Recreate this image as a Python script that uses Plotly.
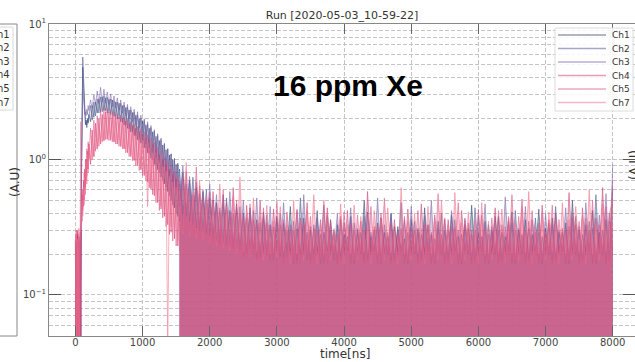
import plotly.graph_objects as go

# ---------------- data ----------------
channels = ["Ch1", "Ch2", "Ch3", "Ch4", "Ch5", "Ch7"]

t_early = list(range(0, 200, 10)) + list(range(200, 1551, 25))
t_tail = list(range(1550, 8001, 50))

ch1_early = [0.02, 0.22, 0.03, 0.27, 0.02, 0.19, 0.03, 0.25, 0.04, 0.9,
             4.3, 4.8, 3.6, 2.5, 2.0, 1.8, 1.95, 1.72, 2.0, 1.85, 2.15,
             1.9, 2.5, 2.05, 2.65, 2.2, 2.8, 2.25, 2.9, 2.3, 2.85, 2.2, 2.78, 2.15, 2.75, 2.08, 2.65, 2.0, 2.6, 1.9,
             2.5, 1.8, 2.42, 1.7, 2.32, 1.6, 2.22, 1.5, 2.12, 1.4, 2.0, 1.32, 1.92, 1.22, 1.8, 1.12, 1.7, 1.02, 1.6, 0.92,
             1.48, 0.84, 1.38, 0.74, 1.28, 0.66, 1.18, 0.58, 1.08, 0.5, 1.0, 0.44, 0.92, 0.38, 0.85]
ch2_early = [0.25, 0.02, 0.21, 0.03, 0.28, 0.02, 0.23, 0.03, 0.26, 1.2,
             5.0, 5.7, 4.2, 2.8, 2.1, 1.85, 1.9, 1.8, 1.95, 1.9, 2.05,
             2.5, 1.95, 2.65, 2.1, 2.8, 2.2, 2.9, 2.25, 2.95, 2.28, 2.88, 2.2, 2.8, 2.15, 2.72, 2.08, 2.66, 2.0, 2.6,
             1.88, 2.52, 1.78, 2.44, 1.68, 2.32, 1.58, 2.24, 1.48, 2.14, 1.38, 2.02, 1.3, 1.94, 1.2, 1.82, 1.1, 1.72, 1.0, 1.62,
             0.9, 1.5, 0.8, 1.4, 0.7, 1.3, 0.62, 1.2, 0.54, 1.1, 0.46, 1.02, 0.4, 0.94, 0.35]
ch3_early = [0.02, 0.24, 0.03, 0.2, 0.02, 0.26, 0.03, 0.22, 0.05, 0.7,
             2.6, 3.3, 2.9, 2.4, 2.15, 2.25, 2.1, 2.35, 2.15, 2.5, 2.3,
             2.75, 2.4, 3.0, 2.55, 3.2, 2.6, 3.4, 2.65, 3.3, 2.6, 3.15, 2.55, 3.05, 2.45, 2.95, 2.4, 2.85, 2.3, 2.75,
             2.2, 2.65, 2.1, 2.55, 2.0, 2.45, 1.9, 2.35, 1.8, 2.25, 1.7, 2.12, 1.58, 2.0, 1.48, 1.9, 1.36, 1.78, 1.25, 1.66,
             1.14, 1.55, 1.02, 1.44, 0.9, 1.32, 0.8, 1.2, 0.7, 1.1, 0.62, 1.0, 0.54, 0.92, 0.48]
ch4_early = [0.03, 0.28, 0.02, 0.3, 0.03, 0.25, 0.02, 0.29, 0.03, 0.35,
             0.55, 0.42, 0.7, 0.5, 0.85, 0.62, 1.0, 0.75, 1.15, 0.85, 1.3,
             0.92, 1.65, 1.05, 1.85, 1.2, 2.0, 1.3, 2.15, 1.38, 2.25, 1.42, 2.22, 1.4, 2.16, 1.35, 2.1, 1.3, 2.05, 1.25,
             2.0, 1.2, 1.92, 1.12, 1.85, 1.05, 1.78, 0.98, 1.7, 0.9, 1.62, 0.84, 1.54, 0.76, 1.46, 0.68, 1.38, 0.6, 1.28, 0.54,
             1.18, 0.48, 1.08, 0.43, 1.0, 0.38, 0.92, 0.33, 0.85, 0.29, 0.78, 0.26, 0.72, 0.23, 0.66]
ch5_early = [0.26, 0.02, 0.3, 0.03, 0.22, 0.02, 0.27, 0.03, 0.32, 0.4,
             0.35, 0.6, 0.45, 0.8, 0.6, 1.0, 0.7, 1.2, 0.85, 1.35, 1.0,
             1.7, 1.0, 1.95, 1.15, 2.1, 1.25, 2.3, 1.35, 2.42, 1.4, 2.38, 1.38, 2.32, 1.35, 2.25, 1.3, 2.18, 1.25, 2.12,
             1.2, 2.05, 1.12, 1.98, 1.05, 1.9, 0.98, 1.82, 0.9, 1.75, 0.83, 1.68, 0.76, 1.6, 0.7, 1.52, 0.62, 1.44, 0.55, 1.34,
             0.48, 1.24, 0.42, 1.14, 0.37, 1.05, 0.32, 0.98, 0.28, 0.9, 0.25, 0.82, 0.23, 0.76, 0.21]
ch7_early = [0.02, 0.3, 0.03, 0.26, 0.02, 0.31, 0.03, 0.28, 1.9, 0.3,
             0.5, 0.38, 0.62, 0.46, 0.78, 0.55, 0.95, 0.66, 1.1, 0.8, 1.25,
             0.95, 1.5, 1.05, 1.7, 1.2, 1.85, 1.3, 2.0, 1.38, 2.1, 1.4, 2.05, 1.38, 1.98, 1.35, 1.92, 1.3, 1.88, 1.25,
             1.82, 1.2, 1.75, 1.15, 1.68, 1.08, 1.6, 1.0, 1.52, 0.92, 1.45, 0.85, 1.38, 0.78, 1.3, 0.45, 1.22, 0.62, 1.12, 0.56,
             1.02, 0.5, 0.95, 0.45, 0.88, 0.4, 0.82, 0.04, 0.75, 0.32, 0.68, 0.28, 0.62, 0.25, 0.58]

ch1_tail = [0.45, 0.8, 0.38, 0.7, 0.33, 0.62, 0.3, 0.58, 0.28, 0.52,
            0.26, 0.48, 0.24, 0.55, 0.23, 0.42, 0.22, 0.47, 0.21, 0.4,
            0.2, 0.44, 0.21, 0.36, 0.19, 0.41, 0.2, 0.33, 0.18, 0.38,
            0.19, 0.34, 0.21, 0.45, 0.17, 0.31, 0.2, 0.37, 0.18, 0.3,
            0.2, 0.42, 0.17, 0.29, 0.21, 0.36, 0.18, 0.33, 0.19, 0.28,
            0.21, 0.38, 0.17, 0.3, 0.2, 0.5, 0.18, 0.27, 0.21, 0.34,
            0.17, 0.29, 0.2, 0.4, 0.18, 0.32, 0.21, 0.26, 0.17, 0.36,
            0.2, 0.31, 0.18, 0.44, 0.21, 0.28, 0.17, 0.35, 0.2, 0.3,
            0.18, 0.39, 0.21, 0.27, 0.17, 0.33, 0.2, 0.46, 0.18, 0.29,
            0.21, 0.35, 0.17, 0.3, 0.2, 0.38, 0.18, 0.27, 0.21, 0.41,
            0.17, 0.3, 0.2, 0.36, 0.18, 0.28, 0.21, 0.43, 0.17, 0.31,
            0.2, 0.37, 0.18, 0.29, 0.21, 0.34, 0.17, 0.5, 0.2, 0.3,
            0.18, 0.33, 0.21, 0.42, 0.17, 0.29, 0.2, 0.36, 0.18, 0.6]
ch2_tail = [0.85, 0.4, 0.66, 0.35, 0.74, 0.31, 0.56, 0.29, 0.6, 0.27,
            0.5, 0.25, 0.44, 0.24, 0.52, 0.23, 0.4, 0.22, 0.45, 0.21,
            0.37, 0.2, 0.42, 0.19, 0.34, 0.21, 0.39, 0.18, 0.32, 0.2,
            0.4, 0.19, 0.3, 0.21, 0.35, 0.17, 0.52, 0.2, 0.29, 0.18,
            0.33, 0.21, 0.28, 0.17, 0.39, 0.2, 0.3, 0.18, 0.36, 0.21,
            0.27, 0.17, 0.34, 0.2, 0.29, 0.18, 0.41, 0.21, 0.3, 0.17,
            0.37, 0.2, 0.27, 0.18, 0.32, 0.21, 0.48, 0.17, 0.29, 0.2,
            0.35, 0.18, 0.28, 0.21, 0.33, 0.17, 0.26, 0.2, 0.4, 0.18,
            0.3, 0.21, 0.36, 0.17, 0.28, 0.2, 0.31, 0.18, 0.44, 0.21,
            0.27, 0.17, 0.33, 0.2, 0.38, 0.18, 0.29, 0.21, 0.35, 0.17,
            0.42, 0.2, 0.28, 0.18, 0.31, 0.21, 0.37, 0.17, 0.27, 0.2,
            0.34, 0.18, 0.45, 0.21, 0.29, 0.17, 0.32, 0.2, 0.38, 0.18,
            0.28, 0.21, 0.35, 0.17, 0.55, 0.2, 0.3, 0.18, 0.4, 0.21]
ch3_tail = [0.5, 0.9, 0.42, 0.75, 0.37, 0.68, 0.33, 0.6, 0.3, 0.66,
            0.28, 0.55, 0.26, 0.47, 0.25, 0.58, 0.23, 0.44, 0.22, 0.5,
            0.21, 0.41, 0.2, 0.52, 0.19, 0.37, 0.21, 0.45, 0.18, 0.36,
            0.2, 0.48, 0.19, 0.33, 0.21, 0.42, 0.17, 0.55, 0.2, 0.32,
            0.18, 0.37, 0.21, 0.46, 0.17, 0.3, 0.2, 0.4, 0.18, 0.34,
            0.21, 0.44, 0.17, 0.31, 0.2, 0.38, 0.18, 0.29, 0.21, 0.52,
            0.17, 0.33, 0.2, 0.4, 0.18, 0.3, 0.21, 0.36, 0.17, 0.45,
            0.2, 0.29, 0.18, 0.38, 0.21, 0.5, 0.17, 0.31, 0.2, 0.36,
            0.18, 0.42, 0.21, 0.3, 0.17, 0.37, 0.2, 0.28, 0.18, 0.39,
            0.21, 0.47, 0.17, 0.32, 0.2, 0.3, 0.18, 0.53, 0.21, 0.34,
            0.17, 0.31, 0.2, 0.45, 0.18, 0.36, 0.21, 0.29, 0.17, 0.4,
            0.2, 0.33, 0.18, 0.3, 0.21, 0.44, 0.17, 0.37, 0.2, 0.32,
            0.18, 0.48, 0.21, 0.31, 0.17, 0.39, 0.2, 0.56, 0.18, 0.92]
ch4_tail = [0.7, 0.3, 0.82, 0.28, 0.55, 0.27, 0.64, 0.25, 0.5, 0.24,
            0.58, 0.23, 0.42, 0.22, 0.48, 0.21, 0.62, 0.2, 0.4, 0.19,
            0.46, 0.21, 0.36, 0.18, 0.5, 0.2, 0.34, 0.19, 0.43, 0.21,
            0.33, 0.17, 0.41, 0.2, 0.3, 0.18, 0.37, 0.21, 0.48, 0.17,
            0.31, 0.2, 0.36, 0.18, 0.44, 0.21, 0.29, 0.17, 0.38, 0.2,
            0.42, 0.18, 0.3, 0.21, 0.35, 0.17, 0.58, 0.2, 0.32, 0.18,
            0.4, 0.21, 0.29, 0.17, 0.36, 0.2, 0.31, 0.18, 0.43, 0.21,
            0.3, 0.17, 0.47, 0.2, 0.33, 0.18, 0.39, 0.21, 0.28, 0.17,
            0.36, 0.2, 0.31, 0.18, 0.42, 0.21, 0.34, 0.17, 0.3, 0.2,
            0.39, 0.18, 0.28, 0.21, 0.44, 0.17, 0.33, 0.2, 0.37, 0.18,
            0.3, 0.21, 0.51, 0.17, 0.35, 0.2, 0.29, 0.18, 0.46, 0.21,
            0.36, 0.17, 0.4, 0.2, 0.31, 0.18, 0.57, 0.21, 0.33, 0.17,
            0.44, 0.2, 0.3, 0.18, 0.37, 0.21, 0.62, 0.17, 0.35, 0.3]
ch5_tail = [0.32, 0.74, 0.29, 0.6, 0.28, 0.88, 0.26, 0.52, 0.25, 0.57,
            0.24, 0.45, 0.23, 0.6, 0.22, 0.41, 0.21, 0.5, 0.2, 0.38,
            0.19, 0.47, 0.21, 0.35, 0.18, 0.44, 0.2, 0.33, 0.19, 0.49,
            0.21, 0.36, 0.17, 0.31, 0.2, 0.43, 0.18, 0.34, 0.21, 0.38,
            0.17, 0.3, 0.2, 0.5, 0.18, 0.35, 0.21, 0.28, 0.17, 0.41,
            0.2, 0.34, 0.18, 0.39, 0.21, 0.3, 0.17, 0.45, 0.2, 0.33,
            0.18, 0.52, 0.21, 0.34, 0.17, 0.29, 0.2, 0.38, 0.18, 0.31,
            0.21, 0.42, 0.17, 0.33, 0.2, 0.29, 0.18, 0.56, 0.21, 0.37,
            0.17, 0.32, 0.2, 0.48, 0.18, 0.36, 0.21, 0.3, 0.17, 0.43,
            0.2, 0.31, 0.18, 0.37, 0.21, 0.42, 0.17, 0.32, 0.2, 0.55,
            0.18, 0.38, 0.21, 0.3, 0.17, 0.42, 0.2, 0.34, 0.18, 0.29,
            0.21, 0.46, 0.17, 0.36, 0.2, 0.3, 0.18, 0.4, 0.21, 0.35,
            0.17, 0.37, 0.2, 0.5, 0.18, 0.33, 0.21, 0.45, 0.17, 0.7]
ch7_tail = [0.62, 0.28, 0.95, 0.27, 0.58, 0.26, 0.7, 0.25, 0.55, 0.24,
            0.47, 0.23, 0.66, 0.22, 0.45, 0.21, 0.53, 0.2, 0.74, 0.21,
            0.4, 0.19, 0.52, 0.21, 0.38, 0.18, 0.46, 0.2, 0.35, 0.19,
            0.45, 0.21, 0.33, 0.17, 0.5, 0.2, 0.36, 0.18, 0.42, 0.21,
            0.55, 0.17, 0.34, 0.2, 0.4, 0.18, 0.31, 0.21, 0.47, 0.17,
            0.33, 0.2, 0.46, 0.18, 0.38, 0.21, 0.31, 0.17, 0.42, 0.2,
            0.36, 0.18, 0.44, 0.21, 0.3, 0.17, 0.62, 0.2, 0.35, 0.18,
            0.4, 0.21, 0.31, 0.17, 0.45, 0.2, 0.37, 0.18, 0.5, 0.21,
            0.33, 0.17, 0.57, 0.2, 0.34, 0.18, 0.41, 0.21, 0.36, 0.17,
            0.48, 0.2, 0.35, 0.18, 0.31, 0.21, 0.43, 0.17, 0.38, 0.2,
            0.35, 0.18, 0.44, 0.21, 0.58, 0.17, 0.32, 0.2, 0.39, 0.18,
            0.41, 0.21, 0.33, 0.17, 0.48, 0.2, 0.36, 0.18, 0.45, 0.21,
            0.38, 0.17, 0.6, 0.2, 0.34, 0.18, 0.47, 0.21, 0.4, 0.5]

early_values = [ch1_early, ch2_early, ch3_early, ch4_early, ch5_early, ch7_early]
tail_values = [ch1_tail, ch2_tail, ch3_tail, ch4_tail, ch5_tail, ch7_tail]

x_tick_vals = [0, 1000, 2000, 3000, 4000, 5000, 6000, 7000, 8000]
y_tick_vals = [0.1, 1, 10]
y_tick_text = ["10<sup>\u22121</sup>", "10<sup>0</sup>", "10<sup>1</sup>"]
y_minor_vals = [0.06, 0.07, 0.08, 0.09, 0.2, 0.3, 0.4, 0.5, 0.6, 0.7, 0.8, 0.9,
                2, 3, 4, 5, 6, 7, 8, 9]

# ---------------- styles ----------------
ch_rgb = ["40,62,105", "72,82,138", "118,96,165", "205,55,110", "220,80,130", "242,110,140"]
X_RANGE = [-393, 8332]
Y_RANGE = [-1.303, 1.0]
FONT = "DejaVu Sans"
GRID = "#c4c4c4"
W, H = 635, 362
ML, MR, MT, MB = 49, 0, 24, 26
PW, PH = W - ML - MR, H - MT - MB


def px_x(p):
    return (p - ML) / PW


def px_y(p):
    return (H - MB - p) / PH


fig = go.Figure()
for i, name in enumerate(channels):
    fig.add_trace(go.Scatter(
        x=t_early, y=early_values[i], mode="lines", name=name,
        legendgroup=name, showlegend=False,
        line=dict(color=f"rgba({ch_rgb[i]},0.55)", width=1),
        hoverinfo="skip"))
    fig.add_trace(go.Scatter(
        x=t_tail, y=tail_values[i], mode="lines", name=name,
        legendgroup=name, showlegend=False, fill="tozeroy",
        fillcolor=f"rgba({ch_rgb[i]},0.34)",
        line=dict(color=f"rgba({ch_rgb[i]},0.5)", width=1),
        hoverinfo="skip"))

fig.update_layout(
    width=W, height=H,
    margin=dict(l=ML, r=MR, t=MT, b=MB, pad=0),
    paper_bgcolor="white", plot_bgcolor="white",
    font=dict(family=FONT, size=10, color="#444"),
    title=dict(text="Run [2020-05-03_10-59-22]", x=0.5, xref="paper",
               y=1 - 15 / H, yref="container", yanchor="middle",
               font=dict(family=FONT, size=11, color="#333")),
    showlegend=False,
)

fig.update_xaxes(
    range=X_RANGE, tickmode="array", tickvals=x_tick_vals,
    ticktext=[str(v) for v in x_tick_vals],
    ticks="inside", ticklen=10, tickcolor="#666", tickwidth=1,
    showline=True, linecolor="#888", linewidth=1, mirror="ticks",
    showgrid=True, gridcolor=GRID, griddash="4px,2px", gridwidth=1,
    zeroline=False, tickfont=dict(family=FONT, size=10, color="#444"),
    ticklabelstandoff=-3,
)
fig.update_yaxes(
    type="log", range=Y_RANGE, tickmode="array", tickvals=y_tick_vals, ticktext=y_tick_text,
    ticks="inside", ticklen=12, tickcolor="#555", tickwidth=1,
    showline=True, linecolor="#888", linewidth=1, mirror="ticks",
    showgrid=True, gridcolor=GRID, griddash="4px,2px", gridwidth=1,
    minor=dict(tickmode="array", tickvals=y_minor_vals, showgrid=True,
               gridcolor=GRID, griddash="4px,2px", gridwidth=1, ticks=""),
    zeroline=False, tickfont=dict(family=FONT, size=10, color="#444"),
)

# x label
fig.add_annotation(text="time[ns]", xref="paper", yref="paper", x=px_x(345), y=px_y(354),
                   xanchor="center", yanchor="middle", showarrow=False,
                   font=dict(family=FONT, size=12, color="#333"))

# big label
fig.add_annotation(text="<b>16 ppm Xe</b>", xref="paper", yref="paper",
                   x=px_x(348), y=px_y(85), xanchor="center", yanchor="middle",
                   showarrow=False, font=dict(family="Liberation Sans", size=30, color="black"))

# legend (drawn in the matplotlib style of the source)
LEG_X0, LEG_X1, LEG_Y0, LEG_Y1 = 555, 633, 28, 111
fig.add_shape(type="rect", xref="paper", yref="paper", x0=px_x(LEG_X0), x1=px_x(LEG_X1),
              y0=px_y(LEG_Y1), y1=px_y(LEG_Y0), line=dict(color="#dcdcdc", width=1),
              fillcolor="rgba(255,255,255,0.85)", layer="above")
for k, name in enumerate(channels):
    yk = px_y(35 + k * 13.5)
    fig.add_shape(type="line", xref="paper", yref="paper", x0=px_x(558), x1=px_x(606),
                  y0=yk, y1=yk, line=dict(color=f"rgba({ch_rgb[k]},0.5)", width=1.5),
                  layer="above")
    fig.add_annotation(text=name, xref="paper", yref="paper", x=px_x(610), y=yk,
                       xanchor="left", yanchor="middle", showarrow=False,
                       font=dict(family=FONT, size=9, color="#333"))

# y label
fig.add_annotation(text="(A.U)", xref="paper", yref="paper", x=px_x(15), y=px_y(182),
                   textangle=-90, showarrow=False, xanchor="center", yanchor="middle",
                   font=dict(family=FONT, size=12, color="#333"))
# neighbouring panels (cropped fragments)
fig.add_annotation(text="(A.U)", xref="paper", yref="paper", x=px_x(634), y=px_y(165),
                   textangle=-90, showarrow=False, xanchor="center", yanchor="middle",
                   font=dict(family=FONT, size=12, color="#333"))
fig.add_shape(type="line", xref="paper", yref="paper", x0=px_x(17), x1=px_x(17), y0=0, y1=1,
              line=dict(color="#888", width=1))
fig.add_shape(type="line", xref="paper", yref="paper", x0=px_x(-5), x1=px_x(17), y0=1, y1=1,
              line=dict(color="#888", width=1))
fig.add_shape(type="line", xref="paper", yref="paper", x0=px_x(-5), x1=px_x(17), y0=0, y1=0,
              line=dict(color="#888", width=1))
fig.add_shape(type="rect", xref="paper", yref="paper", x0=px_x(-60), x1=px_x(13),
              y0=px_y(110), y1=px_y(27), line=dict(color="#d8d8d8", width=1),
              fillcolor="rgba(255,255,255,0.85)")
for k, name in enumerate(channels):
    fig.add_annotation(text=name, xref="paper", yref="paper", x=px_x(12),
                       y=px_y(34 + k * 13.6), xanchor="right", yanchor="middle",
                       showarrow=False, font=dict(family=FONT, size=10, color="#333"))

fig.write_html("out.html")
